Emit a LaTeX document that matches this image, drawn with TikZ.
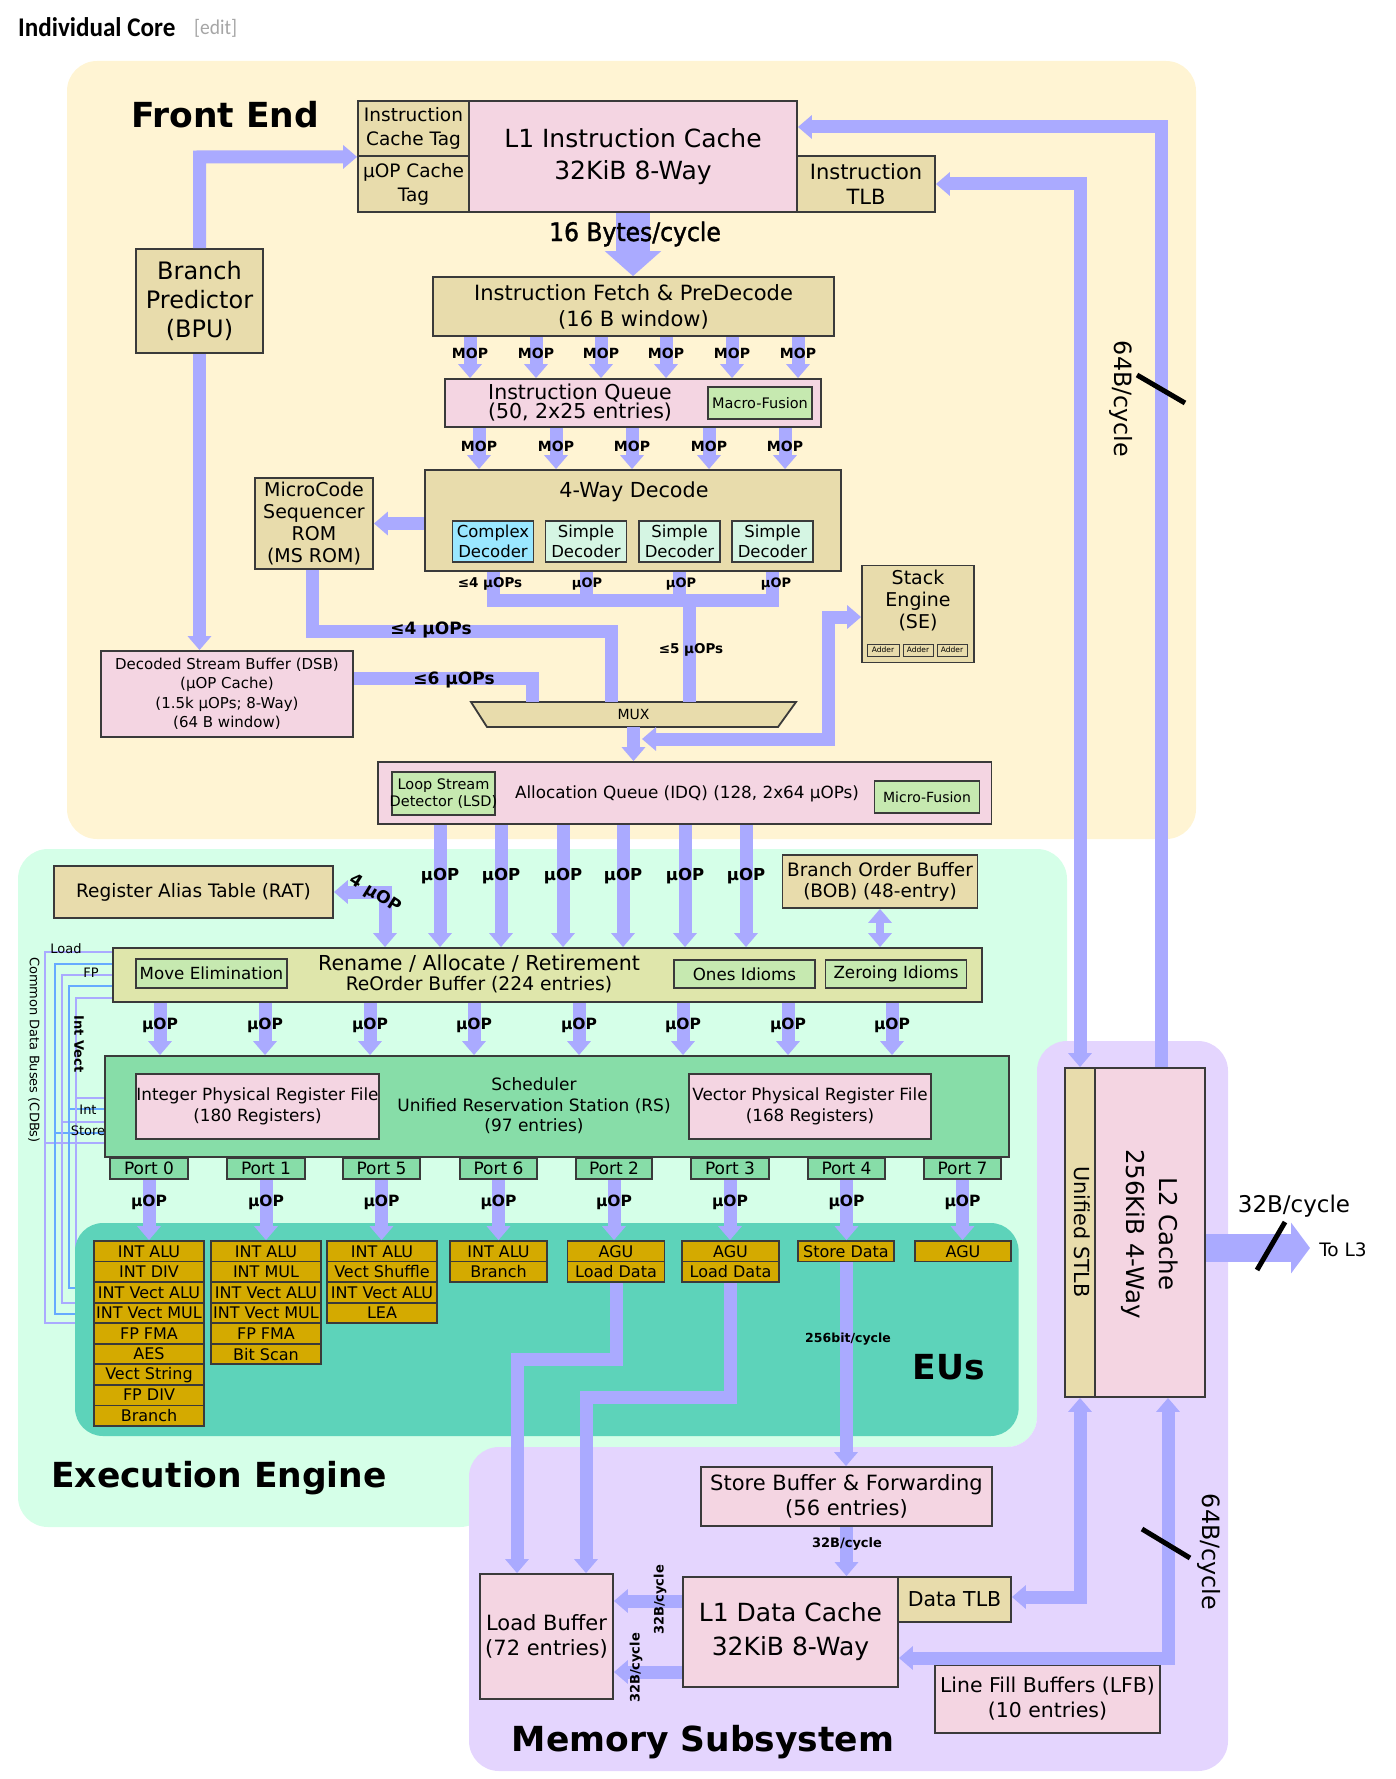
\documentclass[tikz,border=0pt]{standalone}
\usepackage{fontspec}
\setmainfont{DejaVu Sans}
\newfontfamily\headfont[FakeStretch=0.93]{Carlito}
\newfontfamily\byteface[FakeBold=1.5,FakeStretch=0.92]{DejaVu Sans}
\usetikzlibrary{positioning,arrows.meta}
\definecolor{frontbg}{HTML}{FFF4D3}
\definecolor{execbg}{HTML}{D5FFE8}
\definecolor{eubg}{HTML}{5DD3BA}
\definecolor{membg}{HTML}{E4D5FE}
\definecolor{pinkfill}{HTML}{F4D5E2}
\definecolor{tanfill}{HTML}{E8DCAC}
\definecolor{greenfill}{HTML}{C6E9B0}
\definecolor{renamefill}{HTML}{DFE6AB}
\definecolor{schedfill}{HTML}{87DDA8}
\definecolor{goldfill}{HTML}{D4AA00}
\definecolor{cxfill}{HTML}{9AE7FF}
\definecolor{smfill}{HTML}{D5F5E3}
\definecolor{edge}{HTML}{3A3A3A}
\definecolor{busfill}{HTML}{AAAAFF}
\definecolor{cdbblue}{HTML}{66AAFF}
\newcommand{\fsz}[2]{\fontsize{#1}{#2}\selectfont}
\begin{document}
\begin{tikzpicture}[x=1pt,y=-1pt]
\tikzstyle{block}=[draw=edge,line width=1.8pt,inner sep=0pt,align=center]
\tikzstyle{pinkbox}=[block,fill=pinkfill]
\tikzstyle{tanbox}=[block,fill=tanfill]
\tikzstyle{greenbox}=[block,fill=greenfill]
\tikzstyle{smbox}=[block,fill=smfill,font=\fsz{17}{20}]
\tikzstyle{portbox}=[block,fill=schedfill,minimum height=21pt,font=\fsz{17}{20}]
\tikzstyle{eubox}=[block,fill=goldfill,minimum height=20.55pt,font=\fsz{16}{18}]
\tikzstyle{plain}=[inner sep=0pt,align=center]
\tikzstyle{moplab}=[plain,font=\bfseries\fsz{14}{17}]
\tikzstyle{uop}=[plain,font=\bfseries\fsz{15.5}{18}]
\tikzstyle{headline}=[plain,font=\bfseries\fsz{34.5}{40}]
\tikzstyle{bus}=[draw=busfill,line width=13pt,-{Triangle[length=14pt,width=23pt]}]
\tikzstyle{dbus}=[draw=busfill,line width=13pt,{Triangle[length=14pt,width=23pt]}-{Triangle[length=14pt,width=23pt]}]
\tikzstyle{pipe}=[draw=busfill,line width=13pt]
\tikzstyle{slash}=[draw=black,line width=5pt]
\tikzstyle{cdblight}=[draw=busfill,line width=2.5pt]
\tikzstyle{cdbdark}=[draw=cdbblue,line width=2.5pt]
\useasboundingbox (0,0) rectangle (1396,1779);
% panels
\fill[frontbg,rounded corners=30pt] (67,61) rectangle (1196,839);
\fill[execbg,rounded corners=30pt] (18,849) -- (1067,849) -- (1067,1150) -- (1037,1150) -- (1037,1447) -- (490,1447) -- (490,1527) -- (18,1527) -- cycle;
% common data buses
\foreach \x/\yr/\ys/\ye/\st in {45/952/1143/1323/cdblight,55/964/1133/1314/cdbdark,62/975/1122/1303/cdblight,69/986/1109/1288/cdbdark,76/998/1098/1280/cdblight}{
  \draw[\st] (113,\yr) -- (\x,\yr) -- (\x,\ye) -- (90,\ye);
  \draw[\st] (\x,\ys) -- (105,\ys);
}
\node[fill=eubg,rounded corners=28pt,minimum width=943.6pt,minimum height=213pt,inner sep=0pt] (eupanel) at (546.8,1329.5) {};
\fill[membg,rounded corners=30pt] (1037,1041) -- (1228,1041) -- (1228,1771) -- (469,1771) -- (469,1447) -- (1037,1447) -- cycle;
% title
\node[plain,font=\headfont\bfseries\fsz{27}{30},anchor=west] (title) at (18,27) {Individual Core};
\node[plain,font=\headfont\fsz{21}{24},text=black!35,anchor=west] (edit) at (194,28) {[edit]};
\node[headline] (frontname) at (225,115) {Front End};
\node[headline] (execname) at (219,1478) {Execution Engine};
\node[headline] (memname) at (703,1742) {Memory Subsystem};
\node[headline] (euname) at (949,1367) {EUs};
% front end
\node[tanbox,minimum width=111pt,minimum height=55pt,font=\fsz{18.5}{24}] (itag) at (413.5,128.5) {Instruction\\Cache Tag};
\node[tanbox,minimum width=111pt,minimum height=56pt,font=\fsz{18.5}{24}] (utag) at (413.5,184) {µOP Cache\\Tag};
\node[pinkbox,minimum width=328pt,minimum height=111pt,font=\fsz{25}{32}] (l1i) at (633,156.5) {L1 Instruction Cache\\32KiB 8-Way};
\node[tanbox,minimum width=138pt,minimum height=56pt,font=\fsz{21}{25}] (itlb) at (866,184) {Instruction\\TLB};
\node[tanbox,minimum width=127pt,minimum height=104pt,font=\fsz{24}{29}] (bpu) at (199.5,301) {Branch\\Predictor\\(BPU)};
\node[tanbox,minimum width=401pt,minimum height=59pt,font=\fsz{21}{26}] (fetch) at (633.5,306.5) {Instruction Fetch \& PreDecode\\(16 B window)};
\node[pinkbox,minimum width=376pt,minimum height=48pt] (queue) at (633,403) {};
\node[plain,font=\fsz{20.5}{19}] (queuetxt) at (580,403) {Instruction Queue\\(50, 2x25 entries)};
\node[greenbox,minimum width=104pt,minimum height=32pt,font=\fsz{14.5}{16}] (macro) at (760,403) {Macro-Fusion};
\node[tanbox,minimum width=416pt,minimum height=101pt] (decode) at (633,520.5) {};
\node[plain,font=\fsz{20.7}{24}] (decodetxt) at (634,492) {4-Way Decode};
\node[tanbox,minimum width=118pt,minimum height=91pt,font=\fsz{19}{22}] (msrom) at (314,523.5) {MicroCode\\Sequencer\\ROM\\(MS ROM)};
\node[block,fill=cxfill,minimum width=81pt,minimum height=41pt,font=\fsz{16.5}{20}] (cdec) at (493,541.5) {Complex\\Decoder};
\node[smbox,font=\fsz{16.5}{20},minimum width=81pt,minimum height=41pt] (sdeca) at (586,541.5) {Simple\\Decoder};
\node[smbox,font=\fsz{16.5}{20},minimum width=81pt,minimum height=41pt] (sdecb) at (679.5,541.5) {Simple\\Decoder};
\node[smbox,font=\fsz{16.5}{20},minimum width=81pt,minimum height=41pt] (sdecc) at (772.5,541.5) {Simple\\Decoder};
\node[pinkbox,minimum width=252pt,minimum height=86pt,font=\fsz{15}{19.5}] (dsb) at (227,694) {Decoded Stream Buffer (DSB)\\(µOP Cache)\\(1.5k µOPs; 8-Way)\\(64 B window)};
\draw[block,fill=tanfill] (471,702) -- (796,702) -- (778,727) -- (487,727) -- cycle;
\node[plain,minimum width=325pt,minimum height=25pt,font=\fsz{14}{16}] (mux) at (633.5,714.5) {MUX};
\node[tanbox,minimum width=112pt,minimum height=97pt] (se) at (918,614) {};
\node[plain,font=\fsz{19}{22}] (setxt) at (918,601) {Stack\\Engine\\(SE)};
\node[greenbox,fill=tanfill,line width=1pt,minimum width=32pt,minimum height=12pt,font=\fsz{7.5}{8}] (adda) at (883,650) {Adder};
\node[greenbox,fill=tanfill,line width=1pt,minimum width=30pt,minimum height=12pt,font=\fsz{7.5}{8}] (addb) at (918,650) {Adder};
\node[greenbox,fill=tanfill,line width=1pt,minimum width=30pt,minimum height=12pt,font=\fsz{7.5}{8}] (addc) at (952,650) {Adder};
\node[pinkbox,minimum width=613.5pt,minimum height=62pt] (idq) at (684.7,793) {};
\node[greenbox,minimum width=103pt,minimum height=43pt] (lsd) at (443.5,793.5) {};
\node[plain,font=\fsz{14.5}{17}] (lsdtxt) at (443.5,793.5) {Loop Stream\\Detector (LSD)};
\node[plain,font=\fsz{16.8}{20}] (idqtxt) at (687,794) {Allocation Queue (IDQ) (128, 2x64 µOPs)};
\node[greenbox,minimum width=105pt,minimum height=32pt,font=\fsz{14}{16}] (ufus) at (927,797) {Micro-Fusion};
% execution engine
\node[tanbox,minimum width=279pt,minimum height=52pt,font=\fsz{18.5}{22}] (rat) at (193.5,892) {Register Alias Table (RAT)};
\node[tanbox,minimum width=195pt,minimum height=53pt,font=\fsz{18.5}{21}] (bob) at (880,881.5) {Branch Order Buffer\\(BOB) (48-entry)};
\node[block,fill=renamefill,minimum width=869pt,minimum height=54pt] (rename) at (547.5,975) {};
\node[plain,font=\fsz{20.6}{21}] (renametxt) at (479,974) {Rename / Allocate / Retirement\\[-1pt]{\fsz{18.7}{21}ReOrder Buffer (224 entries)}};
\node[greenbox,minimum width=151pt,minimum height=29pt,font=\fsz{16.7}{20}] (moveel) at (211.5,973.5) {Move Elimination};
\node[greenbox,minimum width=141pt,minimum height=28pt,font=\fsz{16.7}{20}] (ones) at (744.5,974) {Ones Idioms};
\node[greenbox,minimum width=141pt,minimum height=28pt,font=\fsz{16.7}{20}] (zero) at (896,974) {Zeroing Idioms};
\node[block,fill=schedfill,minimum width=904pt,minimum height=101pt] (sched) at (557,1106.5) {};
\node[plain,font=\fsz{17}{20.5}] (schedtxt) at (534,1106) {Scheduler\\Unified Reservation Station (RS)\\(97 entries)};
\node[pinkbox,minimum width=243pt,minimum height=65pt,font=\fsz{16.8}{21}] (irf) at (257.5,1106.5) {Integer Physical Register File\\(180 Registers)};
\node[pinkbox,minimum width=242pt,minimum height=65pt,font=\fsz{16.8}{21}] (vrf) at (810,1106.5) {Vector Physical Register File\\(168 Registers)};
\foreach \cx/\w/\n in {149/78/0,266/78/1,381.5/77/5,498.5/77/6,614/76/2,730/78/3,846.5/77/4,962.5/77/7}{
  \node[portbox,minimum width=\w pt] (port\n) at (\cx,1168.5) {Port \n};
}
\foreach \n/\cx/\w/\rows in {
  0/149/110/{INT ALU,INT DIV,INT Vect ALU,INT Vect MUL,FP FMA,AES,Vect String,FP DIV,Branch},
  1/266/110/{INT ALU,INT MUL,INT Vect ALU,INT Vect MUL,FP FMA,Bit Scan},
  5/382/110/{INT ALU,Vect Shuffle,INT Vect ALU,LEA},
  6/498.5/97/{INT ALU,Branch},
  2/616/97/{AGU,Load Data},
  3/730.5/97/{AGU,Load Data},
  4/846/96/{Store Data},
  7/963/96/{AGU}}{
  \foreach \r [count=\i] in \rows {
    \node[eubox,minimum width=\w pt] (eu\n-\i) at ({\cx},{1241+20.55*(\i-0.5)}) {\r};
  }
}
% memory subsystem
\node[pinkbox,minimum width=291pt,minimum height=59pt,font=\fsz{21}{25}] (stbuf) at (846.5,1496.5) {Store Buffer \& Forwarding\\(56 entries)};
\node[pinkbox,minimum width=133pt,minimum height=125pt,font=\fsz{21}{25}] (lbuf) at (546.5,1636.5) {Load Buffer\\(72 entries)};
\node[pinkbox,minimum width=215pt,minimum height=110pt,font=\fsz{25}{34}] (l1d) at (790.5,1632) {L1 Data Cache\\32KiB 8-Way};
\node[tanbox,minimum width=113pt,minimum height=45pt,font=\fsz{20.5}{24}] (dtlb) at (954.5,1599.5) {Data TLB};
\node[pinkbox,minimum width=225pt,minimum height=68pt,font=\fsz{20.4}{25}] (lfb) at (1047.5,1699) {Line Fill Buffers (LFB)\\(10 entries)};
\node[tanbox,minimum width=30pt,minimum height=329pt] (stlb) at (1080,1232.5) {};
\node[pinkbox,minimum width=110pt,minimum height=329pt] (l2) at (1150,1232.5) {};
\node[plain,rotate=-90,font=\fsz{20.7}{24}] (stlbtxt) at (1082,1232) {Unified STLB};
\node[plain,rotate=-90,font=\fsz{24.5}{33}] (l2txt) at (1150,1234) {L2 Cache\\256KiB 4-Way};
% connectors
\coordinate (bpuup) at (199.5,157);
\draw[bus] (bpu.north) -- (bpuup) -- (itag.south west);
\draw[bus] (bpu.south) -- (bpu.south |- dsb.north);
\draw[draw=busfill,line width=34pt,-{Triangle[length=25pt,width=55pt]}] (l1i.south) -- (l1i.south |- fetch.north);
\coordinate (l1iback) at (1161,127);
\draw[bus] (l2.north -| l1iback) -- (l1iback) -- (l1i.east |- l1iback);
\coordinate (itlbback) at (1080,184);
\draw[dbus] (itlb.east) -- (itlbback) -- (stlb.north -| itlbback);
\foreach \x in {470,536,601,666,732,798}{
  \draw[bus] (fetch.south -| \x,0) -- (queue.north -| \x,0);
  \node[moplab] (mopa\x) at (\x,353) {MOP};
}
\foreach \x in {479,556,632,709,785}{
  \draw[bus] (queue.south -| \x,0) -- (decode.north -| \x,0);
  \node[moplab] (mopb\x) at (\x,446) {MOP};
}
\draw[bus] (decode.west |- msrom.east) -- (msrom.east);
\coordinate (decjoin) at (689,600);
\draw[pipe] (decode.south -| cdec.south) -- (cdec.south |- decjoin) -- (decjoin -| sdecc.south) -- (decode.south -| sdecc.south);
\draw[pipe] (decode.south -| sdeca.south) -- (decjoin -| sdeca.south);
\draw[pipe] (decode.south -| sdecb.south) -- (decjoin -| sdecb.south);
\draw[pipe] (decjoin) -- (mux.north -| decjoin);
\coordinate (romdown) at (312,631);
\coordinate (romturn) at (611,631);
\draw[pipe] (msrom.south -| romdown) -- (romdown) -- (romturn) -- (mux.north -| romturn);
\coordinate (dsbturn) at (532,678);
\draw[pipe] (dsb.east |- dsbturn) -- (dsbturn) -- (mux.north -| dsbturn);
\draw[bus] (mux.south) -- (mux.south |- idq.north);
\coordinate (seturn) at (828,617);
\coordinate (seback) at (828,739);
\coordinate (sefoot) at (642,739);
\draw[dbus] (se.west |- seturn) -- (seturn) -- (seback) -- (sefoot);
\foreach \x in {440,501,563,623,685,746}{
  \draw[bus] (idq.south -| \x,0) -- (rename.north -| \x,0);
  \node[uop,font=\bfseries\fsz{16.5}{18}] (uopa\x) at (\x,876) {µOP};
}
\coordinate (ratturn) at (385,892);
\draw[dbus] (rename.north -| ratturn) -- (ratturn) -- (rat.east);
\draw[draw=busfill,line width=8pt,{Triangle[length=14pt,width=23pt]}-{Triangle[length=14pt,width=23pt]}] (bob.south) -- (rename.north -| bob.south);
\foreach \x in {160,265,370,474,579,683,788,892}{
  \draw[bus] (rename.south -| \x,0) -- (sched.north -| \x,0);
  \node[uop] (uopb\x) at (\x,1025) {µOP};
}
\foreach \n in {0,1,5,6,2,3,4,7}{
  \draw[bus] (port\n.south) -- (port\n.south |- eu\n-1.north);
  \node[uop] (uopc\n) at (port\n |- 0,1202) {µOP};
}
\coordinate (loada) at (517,1359);
\coordinate (loadb) at (586,1397);
\draw[bus] (eu2-2.south) |- (loada) -- (loada |- lbuf.north);
\draw[bus] (eu3-2.south) |- (loadb) -- (loadb |- lbuf.north);
\draw[bus] (eu4-1.south) -- (stbuf.north -| eu4-1.south);
\draw[bus] (stbuf.south) -- (l1d.north -| stbuf.south);
\coordinate (toload) at (650,1601);
\coordinate (toloadb) at (650,1672);
\draw[bus] (l1d.west |- toload) -- (lbuf.east |- toload);
\draw[bus] (l1d.west |- toloadb) -- (lbuf.east |- toloadb);
\coordinate (dtlbturn) at (1080,1597);
\draw[dbus] (stlb.south -| dtlbturn) -- (dtlbturn) -- (dtlb.east |- dtlbturn);
\coordinate (l2turn) at (1168,1658);
\draw[dbus] (l2.south -| l2turn) -- (l2turn) -- (l1d.east |- l2turn);
\coordinate (tol) at (1310,1248);
\draw[draw=busfill,line width=28pt,-{Triangle[length=19pt,width=50pt]}] (l2.east |- tol) -- (tol);
% labels
\node[plain,font=\byteface\fsz{25.5}{28}] (bytes) at (635,234) {16 Bytes/cycle};
\node[plain,rotate=-90,font=\fsz{23.8}{26}] (bwa) at (1121,399) {64B/cycle};
\coordinate (ticka) at (1137,375);
\coordinate (tickb) at (1185,403);
\draw[slash] (ticka) -- (tickb);
\node[moplab,font=\bfseries\fsz{13.5}{16}] (ua) at (490,584) {≤4 µOPs};
\node[moplab,font=\bfseries\fsz{13}{16}] (ub) at (587,584) {µOP};
\node[moplab,font=\bfseries\fsz{13}{16}] (uc) at (681,584) {µOP};
\node[moplab,font=\bfseries\fsz{13}{16}] (ud) at (776,584) {µOP};
\node[moplab,font=\bfseries\fsz{13.5}{16}] (ue) at (691,650) {≤5 µOPs};
\node[uop,font=\bfseries\fsz{17}{20}] (uf) at (431,630) {≤4 µOPs};
\node[uop,font=\bfseries\fsz{17}{20}] (ug) at (454,680) {≤6 µOPs};
\node[uop,font=\bfseries\fsz{17}{20},rotate=-32] (uh) at (375,894) {4 µOP};
\node[plain,font=\fsz{13}{15}] (loadtxt) at (66,949) {Load};
\node[plain,font=\fsz{13}{15}] (fptxt) at (91,973) {FP};
\node[plain,font=\fsz{13}{15}] (inttxt) at (88,1110) {Int};
\node[plain,font=\fsz{13}{15}] (storetxt) at (88,1131) {Store};
\node[plain,rotate=-90,font=\bfseries\fsz{13}{15}] (intvect) at (79,1044) {Int Vect};
\node[plain,rotate=-90,font=\fsz{13}{15}] (cdbs) at (34,1050) {Common Data Buses (CDBs)};
\node[moplab,font=\bfseries\fsz{12.5}{15}] (bitcycle) at (848,1339) {256bit/cycle};
\node[moplab,font=\bfseries\fsz{13}{15}] (stcycle) at (847,1544) {32B/cycle};
\node[moplab,rotate=90,font=\bfseries\fsz{13}{15}] (ldcyclea) at (660,1600) {32B/cycle};
\node[moplab,rotate=90,font=\bfseries\fsz{13}{15}] (ldcycleb) at (636,1668) {32B/cycle};
\node[plain,font=\fsz{23}{26}] (l3cycle) at (1294,1206) {32B/cycle};
\node[plain,font=\fsz{18.5}{20}] (tolabel) at (1343,1250) {To L3};
\coordinate (tickc) at (1285,1222);
\coordinate (tickd) at (1257,1270);
\draw[slash] (tickc) -- (tickd);
\node[plain,rotate=-90,font=\fsz{23.8}{26}] (bwb) at (1209,1552) {64B/cycle};
\coordinate (ticke) at (1142,1529);
\coordinate (tickf) at (1190,1558);
\draw[slash] (ticke) -- (tickf);
\end{tikzpicture}
\end{document}
